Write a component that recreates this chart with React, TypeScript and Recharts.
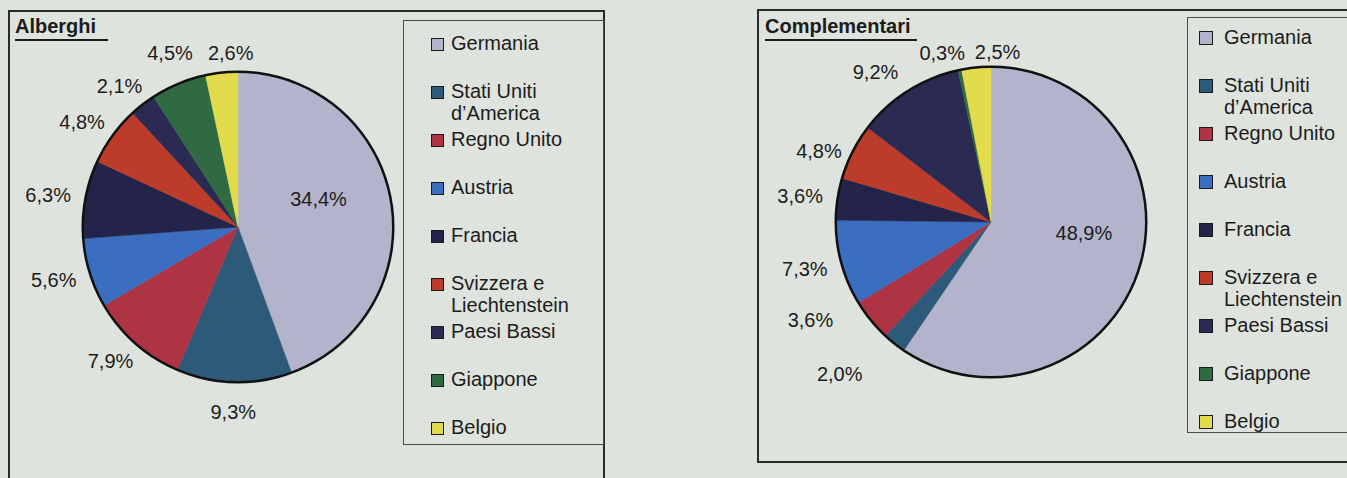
import React from 'react';
import { PieChart, Pie, Cell, Legend } from 'recharts';

const COUNTRIES = [
  'Germania',
  'Stati Uniti d’America',
  'Regno Unito',
  'Austria',
  'Francia',
  'Svizzera e Liechtenstein',
  'Paesi Bassi',
  'Giappone',
  'Belgio',
];
const ALBERGHI = [34.4, 9.3, 7.9, 5.6, 6.3, 4.8, 2.1, 4.5, 2.6];
const COMPLEMENTARI = [48.9, 2.0, 3.6, 7.3, 3.6, 4.8, 9.2, 0.3, 2.5];
const COLORS = ['#b3b3cc', '#2d5a78', '#ae3343', '#3b6ec0', '#24244a', '#bd3b2b', '#2a2a52', '#2f6a42', '#e2dc4c'];

const RING = [{ name: 'bordo', value: 1 }];

// small hand adjustments to mimic the Excel label placement
const LEFT_NUDGE: Record<string, [number, number]> = {
  Germania: [-8, -12],
  'Stati Uniti d’America': [0, 7],
  Giappone: [6, -10],
  Belgio: [13, 3],
};
const RIGHT_NUDGE: Record<string, [number, number]> = {
  Germania: [7, -15],
  'Stati Uniti d’America': [-31, 13],
  'Regno Unito': [-31, -14],
  'Svizzera e Liechtenstein': [0, 10],
  'Paesi Bassi': [-12, 0],
  Giappone: [-10, 5],
  Belgio: [25, 7],
};

const FONT = '"Liberation Sans", Arial, Helvetica, sans-serif';
const RADIAN = Math.PI / 180;
const BG = '#dfe3dd';

const fmt = (v: number) => v.toFixed(1).replace('.', ',') + '%';

const makeLabel = (nudge: Record<string, [number, number]>) => (props: any) => {
  const { cx, cy, midAngle, outerRadius, percent, value, index } = props;
  const dx = Math.cos(-midAngle * RADIAN);
  const dy = Math.sin(-midAngle * RADIAN);
  let x: number;
  let y: number;
  if (percent > 0.3) {
    x = cx + outerRadius * 0.58 * dx;
    y = cy + outerRadius * 0.58 * dy;
  } else {
    const r = outerRadius + 14;
    x = cx + r * dx + dx * 24;
    y = cy + r * dy + dy * 9;
  }
  const [nx, ny] = nudge[COUNTRIES[index]] || [0, 0];
  return (
    <text
      x={x + nx}
      y={y + ny}
      textAnchor="middle"
      dominantBaseline="central"
      fill="#1c1c1c"
      fontSize={20}
      fontFamily={FONT}
    >
      {fmt(value)}
    </text>
  );
};

type LegendCfg = { width: number; height: number; padTop: number; markLeft: number; mark: number; gap: number; textW: number };

const makeLegend = (cfg: LegendCfg) => (props: any) => {
  const payload = (props.payload || []).filter((p: any) => p.type !== 'none');
  // keep the series order of the pie, not the alphabetical one
  const items = COUNTRIES.map((name, i) => {
    const p = payload.find((e: any) => e.value === name);
    return { name, color: (p && p.color) || COLORS[i] };
  });
  return (
    <div
      style={{
        width: cfg.width,
        height: cfg.height,
        boxSizing: 'border-box',
        border: '1px solid #4a4a4a',
        paddingTop: cfg.padTop,
        fontFamily: FONT,
        fontSize: 20,
        color: '#1c1c1c',
      }}
    >
      {items.map((it) => (
        <div key={it.name} style={{ height: 48, display: 'flex', alignItems: 'flex-start' }}>
          <span
            style={{
              flex: 'none',
              width: cfg.mark,
              height: cfg.mark,
              marginLeft: cfg.markLeft,
              marginTop: (22 - cfg.mark) / 2 + 1,
              background: it.color,
              border: '1.5px solid #1a1a1a',
              boxSizing: 'border-box',
            }}
          />
          <span style={{ marginLeft: cfg.gap, lineHeight: '22px', width: cfg.textW }}>{it.name}</span>
        </div>
      ))}
    </div>
  );
};

const PiePanel = ({
  values, cx, cy, width, nudge, legendPos, legendCfg,
}: {
  values: number[]; cx: number; cy: number; width: number;
  nudge: Record<string, [number, number]>;
  legendPos: { left: number; top: number }; legendCfg: LegendCfg;
}) => {
  const data = COUNTRIES.map((name, i) => ({ name, value: values[i], fill: COLORS[i] }));
  return (
    <PieChart width={width} height={478} margin={{ top: 0, right: 0, bottom: 0, left: 0 }}>
      <Pie
        data={data}
        dataKey="value"
        nameKey="name"
        cx={cx}
        cy={cy}
        outerRadius={155}
        startAngle={90}
        endAngle={-270}
        label={makeLabel(nudge)}
        labelLine={false}
        isAnimationActive={false}
      >
        {data.map((d) => (
          <Cell key={d.name} fill={d.fill} stroke={d.fill} strokeWidth={0.5} />
        ))}
      </Pie>
      <Pie
        data={RING}
        dataKey="value"
        cx={cx}
        cy={cy}
        innerRadius={154}
        outerRadius={156.5}
        startAngle={90}
        endAngle={-270}
        fill="#111"
        stroke="none"
        legendType="none"
        isAnimationActive={false}
      />
      <Legend
        layout="vertical"
        align="right"
        verticalAlign="top"
        content={makeLegend(legendCfg)}
        wrapperStyle={{ position: 'absolute', left: legendPos.left, top: legendPos.top, width: legendCfg.width, height: legendCfg.height }}
      />
    </PieChart>
  );
};

const titleStyle: React.CSSProperties = {
  position: 'absolute',
  fontFamily: FONT,
  fontWeight: 'bold',
  fontSize: 20,
  lineHeight: '20px',
  color: '#1c1c1c',
};

export default function App() {
  return (
    <div style={{ position: 'absolute', left: 0, top: 0, width: 1347, height: 478, overflow: 'hidden', background: BG }}>
      {/* frames */}
      <div style={{ position: 'absolute', left: 8, top: 10, width: 597, height: 490, border: '2px solid #2a2a2a', boxSizing: 'border-box' }} />
      <div style={{ position: 'absolute', left: 757, top: 9, width: 620, height: 454, border: '2px solid #2a2a2a', boxSizing: 'border-box' }} />

      {/* titles */}
      <div style={{ ...titleStyle, left: 15, top: 16 }}>Alberghi</div>
      <div style={{ position: 'absolute', left: 15, top: 39, width: 93, height: 2, background: '#1c1c1c' }} />
      <div style={{ ...titleStyle, left: 765, top: 16 }}>Complementari</div>
      <div style={{ position: 'absolute', left: 765, top: 39, width: 152, height: 2, background: '#1c1c1c' }} />

      <div style={{ position: 'absolute', left: 0, top: 0 }}>
        <PiePanel
          values={ALBERGHI}
          cx={238}
          cy={227}
          width={605}
          nudge={LEFT_NUDGE}
          legendPos={{ left: 403, top: 20 }}
          legendCfg={{ width: 201, height: 425, padTop: 11, markLeft: 27, mark: 13, gap: 7, textW: 150 }}
        />
      </div>
      <div style={{ position: 'absolute', left: 758, top: 0 }}>
        <PiePanel
          values={COMPLEMENTARI}
          cx={233}
          cy={222}
          width={589}
          nudge={RIGHT_NUDGE}
          legendPos={{ left: 429, top: 17 }}
          legendCfg={{ width: 175, height: 416, padTop: 8, markLeft: 11, mark: 14, gap: 11, textW: 132 }}
        />
      </div>
    </div>
  );
}
